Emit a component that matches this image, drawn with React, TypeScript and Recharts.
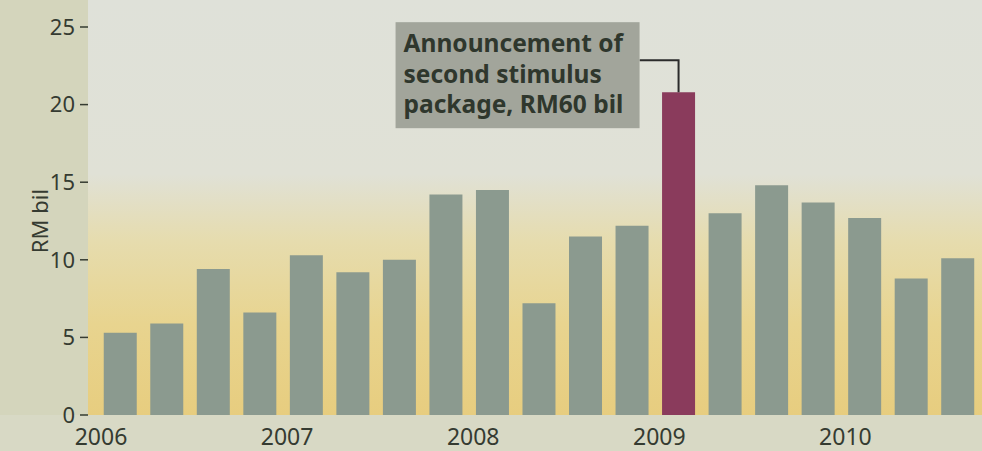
import { BarChart, Bar, XAxis, YAxis, Cell, LabelList } from 'recharts';

const quarters = [
  '2006 Q1', '2006 Q2', '2006 Q3', '2006 Q4',
  '2007 Q1', '2007 Q2', '2007 Q3', '2007 Q4',
  '2008 Q1', '2008 Q2', '2008 Q3', '2008 Q4',
  '2009 Q1', '2009 Q2', '2009 Q3', '2009 Q4',
  '2010 Q1', '2010 Q2', '2010 Q3',
];
const amounts = [5.3, 5.9, 9.4, 6.6, 10.3, 9.2, 10.0, 14.2, 14.5, 7.2, 11.5, 12.2, 20.8, 13.0, 14.8, 13.7, 12.7, 8.8, 10.1];
const yTicks = [0, 5, 10, 15, 20, 25];
const highlightQuarter = '2009 Q1';
const noteLines = ['Announcement of', 'second stimulus', 'package, RM60 bil'];

const data = quarters.map((q, i) => ({ quarter: q, value: amounts[i] }));

const FONT = '"Noto Sans", "Open Sans", sans-serif';
const INK = '#353b31';

// year label sits at the start of each year's first quarter
const YearTick = (props: any) => {
  const { x, y, payload } = props;
  const label = String(payload.value);
  if (!label.endsWith('Q1')) return null;
  const half = payload.offset || 23;
  return (
    <text x={x - half + 4} y={y} dy="0.71em" textAnchor="middle" fill={INK} fontSize={23} fontFamily={FONT}>
      {label.slice(0, 4)}
    </text>
  );
};

// callout box + connector for the stimulus quarter
const Note = (props: any) => {
  const { x, y, width, index } = props;
  if (quarters[index] !== highlightQuarter) return null;
  const cx = x + width / 2;
  const boxRight = cx - 39;
  const boxLeft = boxRight - 244;
  return (
    <g>
      <path d={`M${cx},${y} V${y - 32} H${boxRight}`} stroke="#2b2b2b" strokeWidth={2} fill="none" />
      <rect x={boxLeft} y={y - 70} width={244} height={106} fill="#a2a59b" />
      {noteLines.map((line, i) => (
        <text key={i} x={boxLeft + 8} y={y - 40 + i * 30.5} fill="#2f372d" fontSize={24.5} fontWeight={700} fontFamily={FONT}>
          {line}
        </text>
      ))}
    </g>
  );
};

export default function App() {
  return (
    <div style={{ position: 'absolute', left: 0, top: 0, width: 982, height: 451, background: '#d8d9c5', overflow: 'hidden' }}>
      <div style={{ position: 'absolute', left: 0, top: 0, width: 88, height: 415, background: '#d4d5bc' }} />
      <div
        style={{
          position: 'absolute',
          left: 88,
          top: 0,
          width: 894,
          height: 415,
          background: 'linear-gradient(to bottom, #dfe1d9 0%, #e0e1d6 42%, #e6dcae 58%, #e8d48f 78%, #e7cd7f 100%)',
        }}
      />
      <BarChart
        width={982}
        height={451}
        data={data}
        margin={{ top: 27, right: 1, bottom: 0, left: 0 }}
        barCategoryGap="14.5%"
        style={{ position: 'absolute', left: 0, top: 0 }}
      >
        <XAxis
          dataKey="quarter"
          interval={0}
          height={36}
          padding={{ left: 9, right: 0 }}
          axisLine={false}
          tickLine={false}
          tickSize={0}
          tickMargin={14}
          tick={<YearTick />}
        />
        <YAxis
          domain={[0, 25]}
          ticks={yTicks}
          width={88}
          axisLine={false}
          tickSize={8}
          tickMargin={5}
          tickLine={{ stroke: INK, strokeWidth: 1.5 }}
          tick={{ fill: INK, fontSize: 22, fontFamily: FONT }}
          label={{ value: 'RM bil', angle: -90, position: 'center', dx: -4, fill: INK, fontSize: 22, fontFamily: FONT }}
        />
        <Bar dataKey="value" isAnimationActive={false}>
          {data.map((d) => (
            <Cell key={d.quarter} fill={d.quarter === highlightQuarter ? '#8a3b5c' : '#8b9a8f'} />
          ))}
          <LabelList dataKey="value" content={<Note />} />
        </Bar>
      </BarChart>
    </div>
  );
}
